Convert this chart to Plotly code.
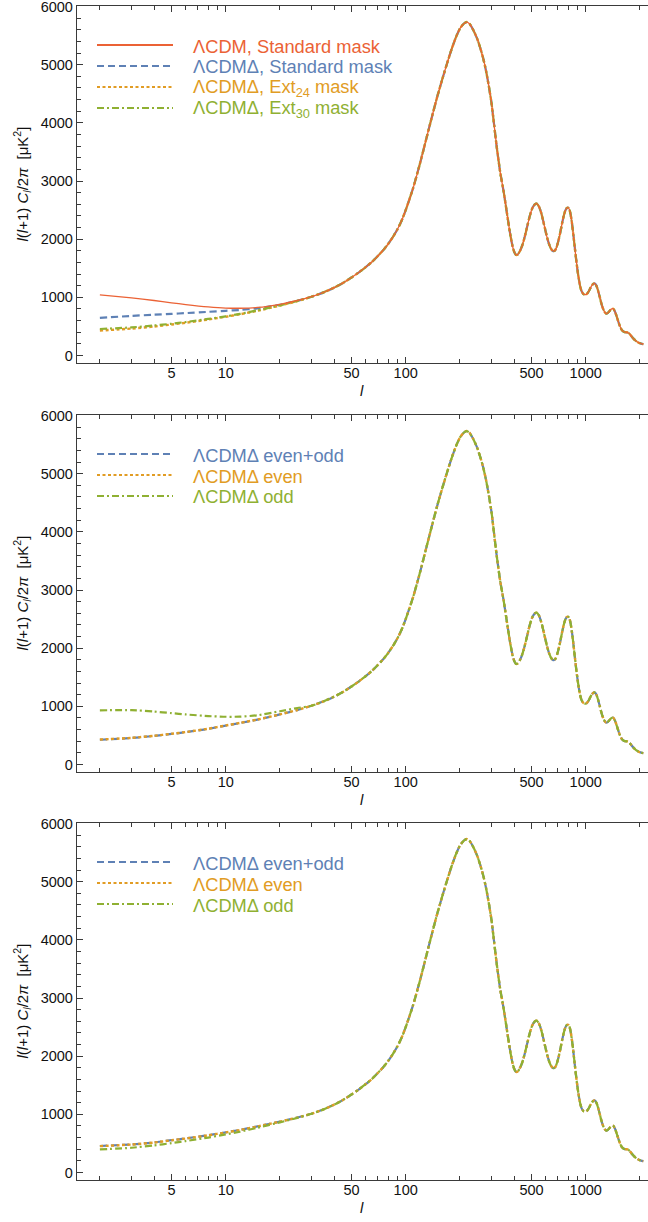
import plotly.graph_objects as go

# ---------------- data ----------------
ELL_LOW = [2, 3, 4, 5, 6, 8, 10, 12, 15, 20, 25]

ELL_COMMON = [30, 35, 40, 45, 50, 55, 60, 65, 70, 75, 80, 85, 90, 95, 100, 110, 120,
              130, 140, 150, 160, 170, 180, 190, 200, 210, 218, 226, 238, 250, 260,
              270, 280, 290, 300, 310, 320, 335, 350, 365, 380, 392, 402, 410, 420,
              432, 445, 460, 475, 490, 505, 520, 535, 550, 565, 580, 595, 610, 625,
              640, 655, 668, 680, 695, 710, 725, 740, 755, 770, 785, 800, 812, 825,
              840, 855, 870, 885, 900, 915, 930, 945, 960, 975, 990, 1004, 1020,
              1040, 1060, 1080, 1100, 1116, 1130, 1150, 1175, 1200, 1225, 1250, 1275,
              1297, 1320, 1345, 1370, 1395, 1413, 1430, 1460, 1490, 1520, 1550, 1585,
              1618, 1650, 1690, 1725, 1760, 1800, 1840, 1880, 1930, 1990, 2050, 2090]
D_COMMON = [1010, 1085, 1165, 1250, 1340, 1430, 1520, 1610, 1710, 1810, 1920, 2040,
            2170, 2320, 2500, 2880, 3300, 3720, 4110, 4460, 4760, 5030, 5270, 5470,
            5620, 5705, 5734, 5705, 5590, 5440, 5280, 5100, 4880, 4620, 4330, 3960,
            3600, 3150, 2820, 2450, 2100, 1880, 1770, 1730, 1740, 1800, 1900, 2060,
            2240, 2410, 2530, 2595, 2610, 2560, 2460, 2320, 2170, 2030, 1920, 1840,
            1800, 1795, 1820, 1900, 2010, 2140, 2280, 2400, 2490, 2535, 2540, 2510,
            2420, 2260, 2060, 1850, 1650, 1470, 1320, 1200, 1120, 1075, 1052, 1045,
            1047, 1065, 1105, 1155, 1200, 1230, 1238, 1230, 1190, 1100, 990, 880,
            800, 745, 722, 725, 750, 780, 800, 804, 795, 740, 660, 575, 500, 440,
            412, 402, 398, 390, 365, 325, 290, 262, 235, 212, 200, 195]

# panel 1 low-ell values
P1_LCDM_STD = [1040, 990, 945, 905, 875, 835, 815, 812, 825, 880, 945]
P1_LCDMD_STD = [645, 680, 700, 715, 728, 750, 768, 782, 810, 872, 940]
P1_LCDMD_EXT24 = [428, 462, 498, 532, 562, 618, 665, 708, 768, 858, 935]
P1_LCDMD_EXT30 = [455, 482, 515, 545, 575, 628, 672, 715, 775, 862, 938]
# panel 2 low-ell values
P2_EVENODD = [425, 455, 490, 525, 555, 612, 668, 712, 770, 860, 935]
P2_EVEN = [428, 457, 492, 527, 557, 614, 670, 714, 772, 861, 936]
P2_ODD = [930, 935, 910, 882, 860, 832, 820, 822, 845, 915, 970]
# panel 3 low-ell values
P3_EVENODD = [455, 482, 515, 555, 585, 640, 690, 732, 792, 875, 945]
P3_EVEN = [452, 480, 514, 553, 584, 638, 688, 730, 790, 874, 944]
P3_ODD = [395, 425, 465, 505, 540, 600, 655, 700, 768, 862, 938]

BLUE, ORANGE, GREEN, RED = "#5E81B5", "#E19C24", "#8FB032", "#EB6235"

LEG1 = ["ΛCDM, Standard mask", "ΛCDMΔ, Standard mask",
        "ΛCDMΔ, Ext<sub>24</sub> mask", "ΛCDMΔ, Ext<sub>30</sub> mask"]
LEG23 = ["ΛCDMΔ even+odd", "ΛCDMΔ even", "ΛCDMΔ odd"]

X_MAJOR = [5, 10, 50, 100, 500, 1000]
X_MINOR = [2, 3, 4, 6, 7, 8, 9, 20, 30, 40, 60, 70, 80, 90, 200, 300, 400,
           600, 700, 800, 900, 2000]
Y_MAJOR = [0, 1000, 2000, 3000, 4000, 5000, 6000]

# ---------------- styles ----------------
DASH = "7px,4px"
DOT = "3px,2.5px"
DASHDOT = "7px,3px,2px,3px"

W, H = 648, 1222
L = 77
TOPS = [6, 415, 823]
BOTS = [363, 772, 1180]
FONT = "Liberation Sans, Arial, Helvetica, sans-serif"


def xp(px):
    return (px - L) / (W - L)


def yp(py):
    return 1 - py / H


fig = go.Figure()

panels = [
    [(P1_LCDMD_STD, BLUE, DASH, 2.2), (P1_LCDMD_EXT24, ORANGE, DOT, 2.4),
     (P1_LCDMD_EXT30, GREEN, DASHDOT, 2.2), (P1_LCDM_STD, RED, "solid", 1.3)],
    [(P2_EVENODD, BLUE, DASH, 2.2), (P2_EVEN, ORANGE, DOT, 2.4),
     (P2_ODD, GREEN, DASHDOT, 2.2)],
    [(P3_EVENODD, BLUE, DASH, 2.2), (P3_EVEN, ORANGE, DOT, 2.4),
     (P3_ODD, GREEN, DASHDOT, 2.2)],
]

for i, series in enumerate(panels):
    xa = "x" if i == 0 else f"x{i+1}"
    ya = "y" if i == 0 else f"y{i+1}"
    for low, col, dash, w in series:
        fig.add_trace(go.Scatter(
            x=ELL_LOW + ELL_COMMON, y=low + D_COMMON, mode="lines",
            line=dict(color=col, dash=dash, width=w, shape="spline", smoothing=0.6),
            xaxis=xa, yaxis=ya, showlegend=False, hoverinfo="skip"))

layout = dict(width=W, height=H, margin=dict(l=L, r=0, t=0, b=0),
              paper_bgcolor="white", plot_bgcolor="white", showlegend=False,
              font=dict(family=FONT, size=14.5, color="#111"))

AXC = "#3a3a3a"
for i in range(3):
    sx = "" if i == 0 else str(i + 1)
    layout["xaxis" + sx] = dict(
        type="log", range=[0.174, 3.346], domain=[0, 1], anchor="y" + sx,
        showgrid=False, zeroline=False, showline=True, linecolor=AXC, linewidth=1.3,
        mirror="allticks", ticks="inside", ticklen=6, tickwidth=1, tickcolor=AXC,
        tickmode="array", tickvals=X_MAJOR, ticktext=[str(v) for v in X_MAJOR],
        minor=dict(tickmode="array", tickvals=X_MINOR, ticks="inside", ticklen=3.5,
                   tickwidth=1, tickcolor=AXC, showgrid=False),
        ticklabelstandoff=-4, ticklabeloverflow="allow",
        tickfont=dict(size=14.5, color="#111"), automargin=False)
    layout["yaxis" + sx] = dict(
        range=[-130, 6010], domain=[yp(BOTS[i]), yp(TOPS[i])], anchor="x" + sx,
        showgrid=False, zeroline=False, showline=True, linecolor=AXC, linewidth=1.3,
        ticks="inside", ticklen=6, tickwidth=1, tickcolor=AXC,
        tickmode="array", tickvals=Y_MAJOR, ticktext=[str(v) for v in Y_MAJOR],
        minor=dict(dtick=200, ticks="inside", ticklen=3.5, tickwidth=1,
                   tickcolor=AXC, showgrid=False),
        ticklabeloverflow="allow",
        tickfont=dict(size=14.5, color="#111"), automargin=False)

shapes, annotations = [], []

legend_sets = [
    [(LEG1[0], RED, "solid"), (LEG1[1], BLUE, DASH), (LEG1[2], ORANGE, DOT),
     (LEG1[3], GREEN, DASHDOT)],
    [(LEG23[0], BLUE, DASH), (LEG23[1], ORANGE, DOT), (LEG23[2], GREEN, DASHDOT)],
    [(LEG23[0], BLUE, DASH), (LEG23[1], ORANGE, DOT), (LEG23[2], GREEN, DASHDOT)],
]
for i, items in enumerate(legend_sets):
    for k, (txt, col, dash) in enumerate(items):
        py = TOPS[i] + 39 + 21 * k
        shapes.append(dict(type="line", xref="paper", yref="paper",
                           x0=xp(97), x1=xp(173), y0=yp(py), y1=yp(py),
                           line=dict(color=col, width=2.2, dash=dash)))
        annotations.append(dict(xref="paper", yref="paper", x=xp(191), y=yp(py + 1),
                                xanchor="left", yanchor="middle", showarrow=False,
                                text=txt, font=dict(size=18.3, color=col, family=FONT)))
    # axis titles
    annotations.append(dict(xref="paper", yref="paper", x=xp(22),
                            y=yp((TOPS[i] + BOTS[i]) / 2), xanchor="center",
                            yanchor="middle", textangle=-90, showarrow=False,
                            text="<i>l</i>(<i>l</i>+1) <i>C<sub>l</sub></i>/2<i>π</i>  [μK<sup>2</sup>]",
                            font=dict(size=15, color="#111", family=FONT)))
    annotations.append(dict(xref="paper", yref="paper", x=xp(362), y=yp(BOTS[i] + 27),
                            xanchor="center", yanchor="middle", showarrow=False,
                            text="<i>l</i>", font=dict(size=15, color="#111", family=FONT)))

layout["shapes"] = shapes
layout["annotations"] = annotations
fig.update_layout(**layout)
fig.write_html("out.html")
